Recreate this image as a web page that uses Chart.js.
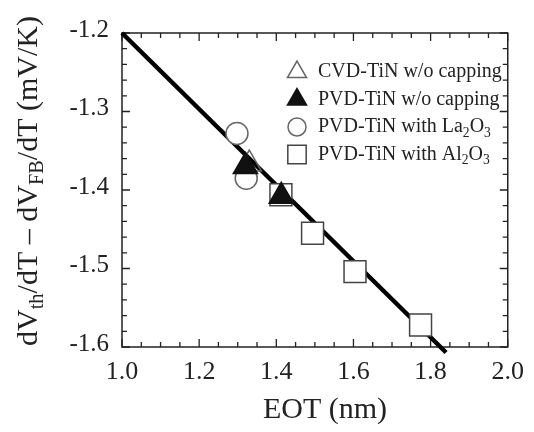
<!DOCTYPE html>
<html>
<head>
<meta charset="utf-8">
<script src="https://cdn.jsdelivr.net/npm/chart.js@4/dist/chart.umd.min.js"></script>
<style>
  html, body { margin: 0; padding: 0; background: #fff; }
  #wrap { width: 534px; height: 432px; }
</style>
</head>
<body>
<div id="wrap"><canvas id="eotChart" width="534" height="432"></canvas></div>
<script>
const FONT = "'Liberation Serif', 'Times New Roman', serif";

// data
const cvdX = [1.33];
const cvdY = [-1.367];
const pvdX = [1.32, 1.413];
const pvdY = [-1.37, -1.408];
const laX = [1.298, 1.322];
const laY = [-1.328, -1.385];
const alX = [1.412, 1.494, 1.604, 1.774];
const alY = [-1.406, -1.455, -1.504, -1.572];
const fitX = [1.0, 1.84];
const fitY = [-1.2, -1.607];

const legendLabels = [
  "CVD-TiN w/o capping",
  "PVD-TiN w/o capping",
  "PVD-TiN with La_2O_3",
  "PVD-TiN with Al_2O_3",
];
const xTitle = "EOT (nm)";
const yTitle = "dV_{th}/dT \u2013 dV_{FB}/dT (mV/K)";

function toPoints(xs, ys) {
  return xs.map((x, i) => ({ x: x, y: ys[i] }));
}

// split "La_2O_3" / "dV_{th}" into normal and subscript pieces
function parseRich(str) {
  const parts = [];
  const re = /_\{([^}]*)\}|_(.)|([^_]+)/g;
  let m;
  while ((m = re.exec(str)) !== null) {
    if (m[3] !== undefined) parts.push({ t: m[3], sub: false });
    else parts.push({ t: m[1] !== undefined ? m[1] : m[2], sub: true });
  }
  return parts;
}

function richWidth(ctx, parts, size) {
  let w = 0;
  parts.forEach((p) => {
    ctx.font = (p.sub ? size * 0.68 : size) + "px " + FONT;
    w += ctx.measureText(p.t).width;
  });
  return w;
}

function drawRich(ctx, str, x, y, size, align) {
  const parts = parseRich(str);
  let cx = align === "center" ? x - richWidth(ctx, parts, size) / 2 : x;
  ctx.textAlign = "left";
  ctx.textBaseline = "middle";
  parts.forEach((p) => {
    const s = p.sub ? size * 0.68 : size;
    ctx.font = s + "px " + FONT;
    ctx.fillText(p.t, cx, p.sub ? y + size * 0.3 : y);
    cx += ctx.measureText(p.t).width;
  });
}

const frameAndTicks = {
  id: "frameAndTicks",
  beforeDatasetsDraw(chart) {
    const { ctx, chartArea: a, scales } = chart;
    ctx.save();
    ctx.strokeStyle = "#222";
    ctx.lineWidth = 1.5;
    ctx.strokeRect(a.left, a.top, a.right - a.left, a.bottom - a.top);

    ctx.lineWidth = 1.3;
    ctx.beginPath();
    for (let i = 0; i <= 20; i++) {
      const v = 1.0 + i * 0.05;
      const px = scales.x.getPixelForValue(v);
      const len = i % 4 === 0 ? 8 : 5;
      ctx.moveTo(px, a.bottom);
      ctx.lineTo(px, a.bottom - len);
      ctx.moveTo(px, a.top);
      ctx.lineTo(px, a.top + len);
    }
    for (let i = 0; i <= 20; i++) {
      const v = -1.6 + i * 0.02;
      const py = scales.y.getPixelForValue(v);
      const len = i % 5 === 0 ? 8 : 5;
      ctx.moveTo(a.left, py);
      ctx.lineTo(a.left + len, py);
      ctx.moveTo(a.right, py);
      ctx.lineTo(a.right - len, py);
    }
    ctx.stroke();
    ctx.restore();
  },
  afterDraw(chart) {
    const { ctx } = chart;
    ctx.save();
    ctx.fillStyle = "#222";

    // axis titles
    drawRich(ctx, xTitle, 325, 410, 30, "center");
    ctx.save();
    ctx.translate(29, 181);
    ctx.rotate(-Math.PI / 2);
    drawRich(ctx, yTitle, 0, 0, 30, "center");
    ctx.restore();

    // legend inside the plot
    const styles = chart.data.datasets.slice(0, 4);
    const radii = [11, 11, 9, 13];
    legendLabels.forEach((label, i) => {
      const ds = styles[i];
      const y = 72 + i * 27.5;
      ctx.save();
      ctx.fillStyle = ds.backgroundColor;
      ctx.strokeStyle = ds.borderColor;
      ctx.lineWidth = 1.5;
      Chart.helpers.drawPoint(ctx, { pointStyle: ds.pointStyle, radius: radii[i], borderWidth: 1.5 }, 297, y);
      ctx.restore();
      ctx.fillStyle = "#222";
      drawRich(ctx, label, 318, y, 20, "left");
    });
    ctx.restore();
  },
};

const chart = new Chart(document.getElementById("eotChart"), {
  type: "scatter",
  data: {
    datasets: [
      {
        label: legendLabels[0],
        data: toPoints(cvdX, cvdY),
        pointStyle: "triangle",
        pointRadius: 14,
        backgroundColor: "rgba(255,255,255,0)",
        borderColor: "#666",
        borderWidth: 1.5,
        order: 1,
      },
      {
        label: legendLabels[1],
        data: toPoints(pvdX, pvdY),
        pointStyle: "triangle",
        pointRadius: 14,
        backgroundColor: "#111",
        borderColor: "#111",
        borderWidth: 1.5,
        order: 0,
      },
      {
        label: legendLabels[2],
        data: toPoints(laX, laY),
        pointStyle: "circle",
        pointRadius: 11,
        backgroundColor: "#fff",
        borderColor: "#666",
        borderWidth: 1.5,
        order: 2,
      },
      {
        label: legendLabels[3],
        data: toPoints(alX, alY),
        pointStyle: "rect",
        pointRadius: 15.5,
        backgroundColor: "#fff",
        borderColor: "#444",
        borderWidth: 1.5,
        order: 3,
      },
      {
        label: "fit",
        type: "line",
        data: toPoints(fitX, fitY),
        borderColor: "#000",
        borderWidth: 4.5,
        pointRadius: 0,
        fill: false,
        clip: false,
        order: 4,
      },
    ],
  },
  options: {
    responsive: false,
    animation: false,
    layout: {
      padding: { top: 33, right: 15, left: 0, bottom: 0 },
    },
    plugins: {
      legend: { display: false },
      tooltip: { enabled: false },
    },
    scales: {
      x: {
        type: "linear",
        min: 1.0,
        max: 2.0,
        grid: { display: false, drawTicks: false },
        border: { display: false },
        ticks: {
          stepSize: 0.2,
          padding: 10,
          color: "#222",
          font: { family: FONT, size: 26 },
          callback: (v) => v.toFixed(1),
        },
        afterFit: (s) => { s.height = 85; },
      },
      y: {
        type: "linear",
        min: -1.6,
        max: -1.2,
        grid: { display: false, drawTicks: false },
        border: { display: false },
        ticks: {
          stepSize: 0.1,
          padding: 13,
          labelOffset: -3,
          color: "#222",
          font: { family: FONT, size: 25 },
          callback: (v) => v.toFixed(1),
        },
        afterFit: (s) => { s.width = 122; },
      },
    },
  },
  plugins: [frameAndTicks],
});
</script>
</body>
</html>
